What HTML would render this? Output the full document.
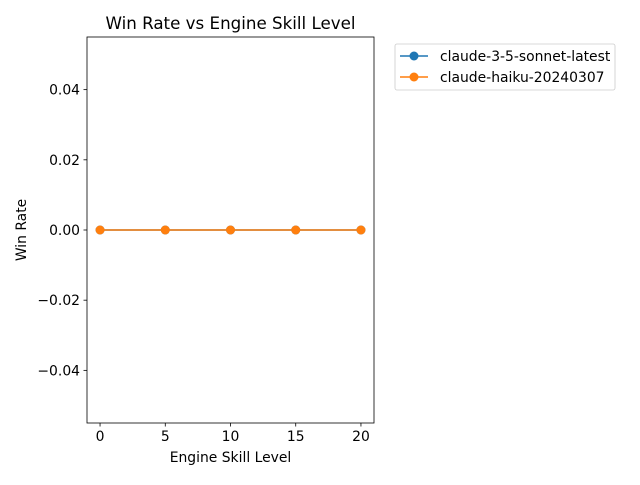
<!DOCTYPE html>
<html><head><meta charset="utf-8"><style>
body{margin:0;background:#fff;}
svg{font-family:"DejaVu Sans","Liberation Sans",sans-serif;}
</style></head><body>
<svg id="chart" width="640" height="480" viewBox="0 0 640 480" xmlns="http://www.w3.org/2000/svg">
<rect width="640" height="480" fill="#fff"/>
<text x="230.5" y="29" font-size="16.7" text-anchor="middle">Win Rate vs Engine Skill Level</text>
<g id="plot"></g>
<rect x="87" y="37" width="287" height="386" fill="none" stroke="#000" stroke-width="0.8"/>
<text x="230.5" y="462" font-size="13.9" text-anchor="middle">Engine Skill Level</text>
<text x="26" y="230" font-size="13.9" text-anchor="middle" transform="rotate(-90 26 230)">Win Rate</text>
<g>
<rect x="395" y="44" width="220" height="46" rx="2" fill="#fff" stroke="#ccc" stroke-width="0.8"/>
<line x1="400" y1="56" x2="428" y2="56" stroke="#1f77b4" stroke-width="1.5"/>
<circle cx="414" cy="56" r="4.5" fill="#1f77b4"/>
<text x="440" y="61" font-size="13.9">claude-3-5-sonnet-latest</text>
<line x1="400" y1="77" x2="428" y2="77" stroke="#ff7f0e" stroke-width="1.5"/>
<circle cx="414" cy="77" r="4.5" fill="#ff7f0e"/>
<text x="440" y="82" font-size="13.9">claude-haiku-20240307</text>
</g>
</svg>
<script>
const skillLevels=[0,5,10,15,20];
const sonnetWinRate=[0,0,0,0,0];
const haikuWinRate=[0,0,0,0,0];
const xTicks=[0,5,10,15,20];
const yTicks=[-0.04,-0.02,0.00,0.02,0.04];
const yTickLabels=["\u22120.04","\u22120.02","0.00","0.02","0.04"];
const NS="http://www.w3.org/2000/svg";
const L=87,R=374,T=37,B=423;
const xmin=-1,xmax=21,ymin=-0.055,ymax=0.055;
const X=v=>L+(v-xmin)/(xmax-xmin)*(R-L);
const Y=v=>B-(v-ymin)/(ymax-ymin)*(B-T);
const g=document.getElementById('plot');
function mk(t,a){const e=document.createElementNS(NS,t);for(const k in a)e.setAttribute(k,a[k]);g.appendChild(e);return e;}
xTicks.forEach(v=>{
  const l=mk('line',{x1:X(v),x2:X(v),y1:B,y2:B+3.5,stroke:'#000','stroke-width':0.8});
  
  
  const t=mk('text',{x:X(v),y:B+18,'font-size':13.9,'text-anchor':'middle'});
  
  
  t.textContent=v;
});
yTicks.forEach((v,i)=>{
  const l=mk('line',{x1:L-3.5,x2:L,y1:Y(v),y2:Y(v),stroke:'#000','stroke-width':0.8});
  
  
  const t=mk('text',{x:L-7,y:Y(v)+5,'font-size':13.9,'text-anchor':'end'});
  
  
  t.textContent=yTickLabels[i];
});
function series(vals,color,name){
  const p=mk('polyline',{points:skillLevels.map((x,i)=>X(x)+','+Y(vals[i])).join(' '),fill:'none',stroke:color,'stroke-width':1.5});
  
  
  skillLevels.forEach((x,i)=>{
    const c=mk('circle',{cx:X(x),cy:Y(vals[i]),r:4.5,fill:color});
    
    
  });
}
series(sonnetWinRate,'#1f77b4','sonnet');
series(haikuWinRate,'#ff7f0e','haiku');
</script>
</body></html>
